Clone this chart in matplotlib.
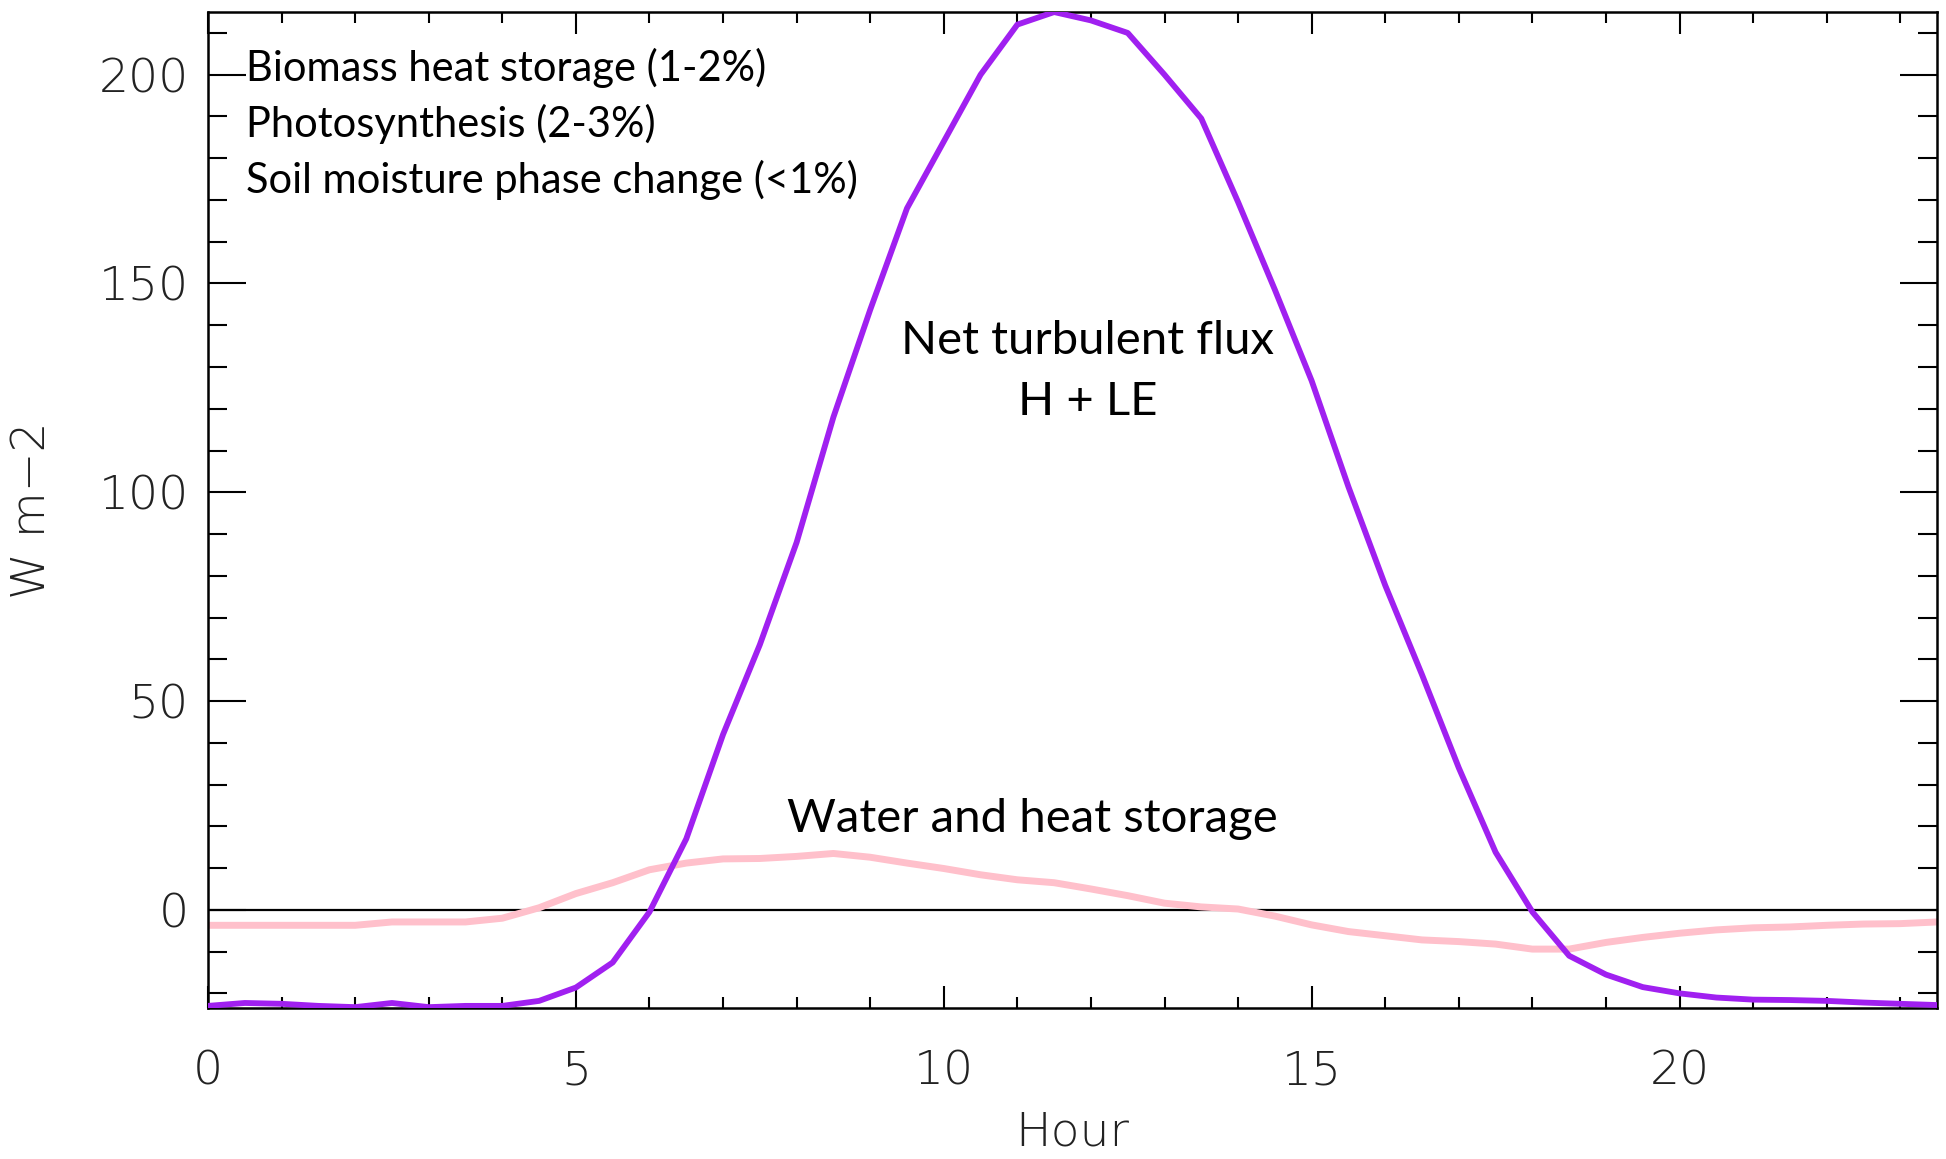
import numpy as np
import matplotlib
matplotlib.use("Agg")
import matplotlib.pyplot as plt
from matplotlib.ticker import MultipleLocator

# hours of the day
hours = [0, 0.5, 1, 1.5, 2, 2.5, 3, 3.5, 4, 4.5, 5, 5.5, 6, 6.5, 7, 7.5,
         8, 8.5, 9, 9.5, 10, 10.5, 11, 11.5, 12, 12.5, 13, 13.5, 14, 14.5,
         15, 15.5, 16, 16.5, 17, 17.5, 18, 18.5, 19, 19.5, 20, 20.5, 21,
         21.5, 22, 22.5, 23, 23.5]

# net turbulent flux H + LE (W m-2)
turb_flux = [-23, -22.3, -22.5, -23, -23.3, -22.3, -23.3, -23, -23, -21.8,
             -18.6, -12.6, -0.5, 17, 42, 63.5, 88, 118, 143.7, 168, 184, 200,
             212, 215, 213, 210, 200, 189.5, 169.5, 148.5, 126.7, 101.3, 77.7,
             56.3, 34, 13.8, -0.5, -11, -15.5, -18.5, -20, -21, -21.5, -21.6,
             -21.8, -22.2, -22.5, -22.8]

# water and heat storage (W m-2)
storage = [-3.7, -3.7, -3.7, -3.7, -3.7, -2.9, -2.9, -2.9, -2.0, 0.5, 3.9,
           6.5, 9.6, 11.2, 12.2, 12.3, 12.8, 13.5, 12.6, 11.2, 9.9, 8.4, 7.2,
           6.5, 5.0, 3.4, 1.6, 0.7, 0.2, -1.5, -3.6, -5.2, -6.2, -7.2, -7.6,
           -8.2, -9.4, -9.4, -7.8, -6.6, -5.6, -4.8, -4.3, -4.1, -3.7, -3.4,
           -3.3, -2.9]

other_terms = ["Biomass heat storage (1-2%)",
               "Photosynthesis (2-3%)",
               "Soil moisture phase change (<1%)"]

fig = plt.figure(figsize=(19.46, 11.59), dpi=100)
ax = fig.add_axes([0.1069, 0.1303, 0.8885, 0.8593])

ax.plot([0, 23.5], [0, 0], color="black", linewidth=1.6, zorder=1)
ax.plot(hours, storage, color="#FFC0CB", linewidth=5, zorder=2)
ax.plot(hours, turb_flux, color="#A020F0", linewidth=4.2, zorder=3)

ax.set_xlim(0, 23.5)
ax.set_ylim(-23.5, 215)

ax.xaxis.set_major_locator(MultipleLocator(5))
ax.xaxis.set_minor_locator(MultipleLocator(1))
ax.yaxis.set_major_locator(MultipleLocator(50))
ax.yaxis.set_minor_locator(MultipleLocator(10))

ax.tick_params(axis="x", which="both", direction="in", top=True, width=1.5,
               pad=30, labelsize=34, labelcolor="#222222")
ax.tick_params(axis="x", which="major", length=16)
ax.tick_params(axis="x", which="minor", length=8)
ax.tick_params(axis="y", which="both", direction="in", right=True, width=1.5,
               pad=14, labelsize=34, labelcolor="#222222")
ax.tick_params(axis="y", which="major", length=27)
ax.tick_params(axis="y", which="minor", length=14)
for lab in ax.get_xticklabels() + ax.get_yticklabels():
    lab.set_fontweight("light")

for sp in ax.spines.values():
    sp.set_linewidth(1.8)

ax.set_xlabel("Hour", fontsize=34, color="#222222", fontweight="light", labelpad=12)
ax.set_ylabel("W m\u22122", fontsize=34, color="#222222", fontweight="light", labelpad=32)

tfont = dict(family=["Lato", "DejaVu Sans"], color="black")
for i, s in enumerate(other_terms):
    ax.text(0.52, 201.6 - 13.4 * i, s, ha="left", va="center", fontsize=30, **tfont)
ax.text(11.95, 136.3, "Net turbulent flux", ha="center", va="center", fontsize=34, **tfont)
ax.text(11.95, 121.5, "H + LE", ha="center", va="center", fontsize=34, **tfont)
ax.text(11.2, 21.7, "Water and heat storage", ha="center", va="center", fontsize=34, **tfont)

fig.savefig("out.png", dpi=100)
